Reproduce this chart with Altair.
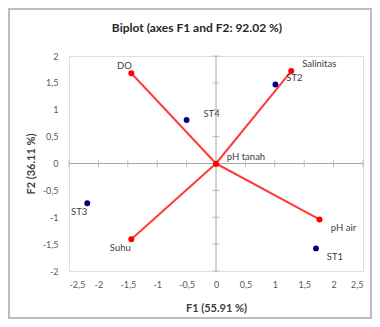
import altair as alt
import pandas as pd

# Variables (red vectors)
var_names = ["DO", "Salinitas", "pH tanah", "Suhu", "pH air"]
var_f1 = [-1.44, 1.28, 0.0, -1.44, 1.76]
var_f2 = [1.68, 1.72, -0.01, -1.41, -1.04]

# Observations (blue points)
obs_names = ["ST4", "ST2", "ST3", "ST1"]
obs_f1 = [-0.50, 1.01, -2.19, 1.70]
obs_f2 = [0.81, 1.47, -0.74, -1.58]

x_ticks = [-2.5, -2, -1.5, -1, -0.5, 0, 0.5, 1, 1.5, 2, 2.5]
y_ticks = [-2, -1.5, -1, -0.5, 0, 0.5, 1, 1.5, 2]

# label offsets (styling)
label_off = {
    "DO": (-7, -7), "Salinitas": (28, -7), "pH tanah": (30, -7),
    "Suhu": (-11, 9), "pH air": (24, 9),
    "ST4": (25, -6), "ST2": (19, -6), "ST3": (-8, 9), "ST1": (19, 9),
}

vars_df = pd.DataFrame({"name": var_names, "f1": var_f1, "f2": var_f2})
vars_df["x0"] = 0.0
vars_df["y0"] = 0.0
obs_df = pd.DataFrame({"name": obs_names, "f1": obs_f1, "f2": obs_f2})

FONT = "Lato"
label_expr = "replace('' + datum.value, '.', ',')"

xs = alt.Scale(domain=[-2.5, 2.5], nice=False, zero=False)
ys = alt.Scale(domain=[-2, 2], nice=False, zero=False)

X = alt.X("f1:Q", scale=xs, axis=alt.Axis(
    values=x_ticks, labelExpr=label_expr, grid=False, domain=False, ticks=False,
    labelPadding=9, labelFontSize=9, labelColor="#595959", labelFont=FONT,
    title="F1 (55.91 %)", titleFont=FONT, titleFontSize=11, titleFontWeight="bold",
    titleColor="#404040", titlePadding=13))
Y = alt.Y("f2:Q", scale=ys, axis=alt.Axis(
    values=y_ticks, labelExpr=label_expr, grid=False, domain=False, ticks=False,
    labelPadding=11, labelFontSize=9, labelColor="#595959", labelFont=FONT,
    title="F2 (36.11 %)", titleFont=FONT, titleFontSize=11, titleFontWeight="bold",
    titleColor="#404040", titlePadding=6))

frame = alt.Chart(pd.DataFrame({"a": [0]})).mark_rect(
    fill=None, stroke="#bdbdbd", strokeWidth=2).encode(
    x=alt.value(-60), x2=alt.value(302), y=alt.value(-47), y2=alt.value(262))

xt = pd.DataFrame({"f1": x_ticks, "f2": [0.0] * len(x_ticks)})
yt = pd.DataFrame({"f1": [0.0] * len(y_ticks), "f2": y_ticks})

hline = alt.Chart(pd.DataFrame({"f2": [0.0]})).mark_rule(
    color="#a6a6a6", strokeWidth=1).encode(y=Y)
vline = alt.Chart(pd.DataFrame({"f1": [0.0]})).mark_rule(
    color="#a6a6a6", strokeWidth=1).encode(x=X)
xticks = alt.Chart(xt).mark_tick(orient="vertical", size=7, thickness=1,
                                 color="#a6a6a6").encode(x=X, y=Y)
yticks = alt.Chart(yt).mark_tick(orient="horizontal", size=7, thickness=1,
                                 color="#a6a6a6").encode(x=X, y=Y)

RED = "#ff3b3b"
vecs = alt.Chart(vars_df).mark_rule(color=RED, strokeWidth=2).encode(
    x=X, y=Y, x2="x0:Q", y2="y0:Q")
vpts = alt.Chart(vars_df).mark_circle(color="#ff0000", size=36, opacity=1).encode(x=X, y=Y)
opts = alt.Chart(obs_df).mark_circle(color="#00007a", size=34, opacity=1).encode(x=X, y=Y)

layers = [frame, hline, vline, xticks, yticks, vecs, vpts, opts]

for name, (dx, dy) in label_off.items():
    src = vars_df if name in var_names else obs_df
    layers.append(
        alt.Chart(src).transform_filter(alt.datum.name == name).mark_text(
            dx=dx, dy=dy, fontSize=9.5, font=FONT, color="#404040").encode(
            x=X, y=Y, text="name:N"))

chart = alt.layer(*layers).properties(
    width=294, height=215,
    autosize=alt.AutoSizeParams(type="none"),
    padding={"left": 61, "top": 48, "right": 9, "bottom": 48},
    title=alt.TitleParams("Biplot (axes F1 and F2: 92.02 %)", font=FONT, fontSize=12,
                          fontWeight="bold", color="#262626", anchor="middle",
                          frame="group", dx=-19, offset=-27),
).configure_view(stroke="#bfbfbf", strokeWidth=1).configure(background="white")

chart.save("out.html", embed_options={"renderer": "svg", "actions": False})
